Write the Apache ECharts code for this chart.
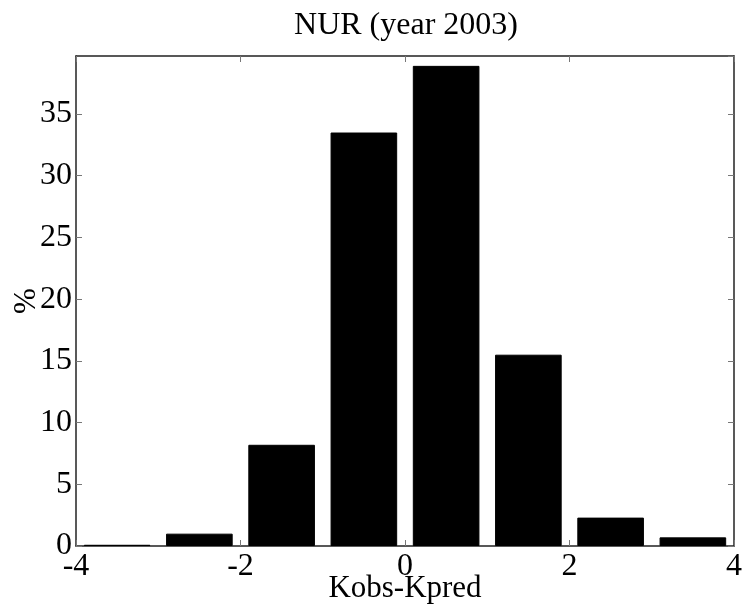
<!DOCTYPE html>
<html>
<head>
<meta charset="utf-8">
<script src="https://cdn.jsdelivr.net/npm/echarts@6/dist/echarts.min.js"></script>
<style>
  html, body { margin: 0; padding: 0; background: #fff; }
  #chart { width: 742px; height: 611px; }
</style>
</head>
<body>
<div id="chart"></div>
<script>
// histogram bins (Kobs-Kpred) and share of cases in %
var binCenters = [-3.5, -2.5, -1.5, -0.5, 0.5, 1.5, 2.5, 3.5];
var percents = [0.1, 1.0, 8.2, 33.5, 38.9, 15.5, 2.3, 0.7];
var xTicks = [-4, -2, 0, 2, 4];
var yTicks = [0, 5, 10, 15, 20, 25, 30, 35];

var font = "Liberation Serif";
var lineColor = "#222";
var tickColor = "#777";

var myChart = echarts.init(document.getElementById("chart"));

var barData = binCenters.map(function(c, i) { return [c, percents[i]]; });

var option = {
  animation: false,
  title: {
    text: "NUR (year 2003)",
    left: 401,
    top: 5,
    textAlign: "center",
    textStyle: { fontFamily: font, fontSize: 32, fontWeight: "normal", color: "#000" }
  },
  grid: { left: 76, right: 8, top: 56, bottom: 65, outerBoundsMode: "none" },
  xAxis: [
    {
      type: "value",
      min: xTicks[0],
      max: xTicks[xTicks.length - 1],
      interval: 2,
      name: "Kobs-Kpred",
      nameLocation: "middle",
      nameGap: 27,
      nameMoveOverlap: false,
      nameTextStyle: { fontFamily: font, fontSize: 31, color: "#000" },
      axisLine: { onZero: false, lineStyle: { color: lineColor, width: 1.5 } },
      axisTick: { inside: true, length: 6, lineStyle: { color: tickColor } },
      axisLabel: { fontFamily: font, fontSize: 32, color: "#000", margin: 5 },
      splitLine: { show: false }
    },
    {
      type: "value",
      position: "top",
      min: xTicks[0],
      max: xTicks[xTicks.length - 1],
      interval: 2,
      axisLine: { show: true, onZero: false, lineStyle: { color: lineColor, width: 1.5 } },
      axisTick: { show: true, inside: true, length: 6, lineStyle: { color: tickColor } },
      axisLabel: { show: false },
      splitLine: { show: false }
    }
  ],
  yAxis: [
    {
      type: "value",
      min: 0,
      max: 39.7,
      interval: 5,
      name: "%",
      nameLocation: "middle",
      nameRotate: 90,
      nameGap: 34,
      nameMoveOverlap: false,
      nameTextStyle: { fontFamily: font, fontSize: 31, color: "#000" },
      axisLine: { show: true, onZero: false, lineStyle: { color: lineColor, width: 1.5 } },
      axisTick: { show: true, inside: true, length: 6, lineStyle: { color: tickColor } },
      axisLabel: {
        fontFamily: font, fontSize: 32, color: "#000", margin: 4,
        showMaxLabel: false,
        formatter: function(v) { return yTicks.indexOf(v) >= 0 ? String(v) : ""; }
      },
      splitLine: { show: false }
    },
    {
      type: "value",
      position: "right",
      min: 0,
      max: 39.7,
      interval: 5,
      axisLine: { show: true, onZero: false, lineStyle: { color: lineColor, width: 1.5 } },
      axisTick: { show: true, inside: true, length: 6, lineStyle: { color: tickColor } },
      axisLabel: { show: false },
      splitLine: { show: false }
    }
  ],
  series: [
    {
      type: "bar",
      xAxisIndex: 0,
      yAxisIndex: 0,
      data: barData,
      barWidth: "81%",
      itemStyle: { color: "#000", borderColor: "#000", borderWidth: 1 }
    }
  ]
};

myChart.setOption(option);
</script>
</body>
</html>
